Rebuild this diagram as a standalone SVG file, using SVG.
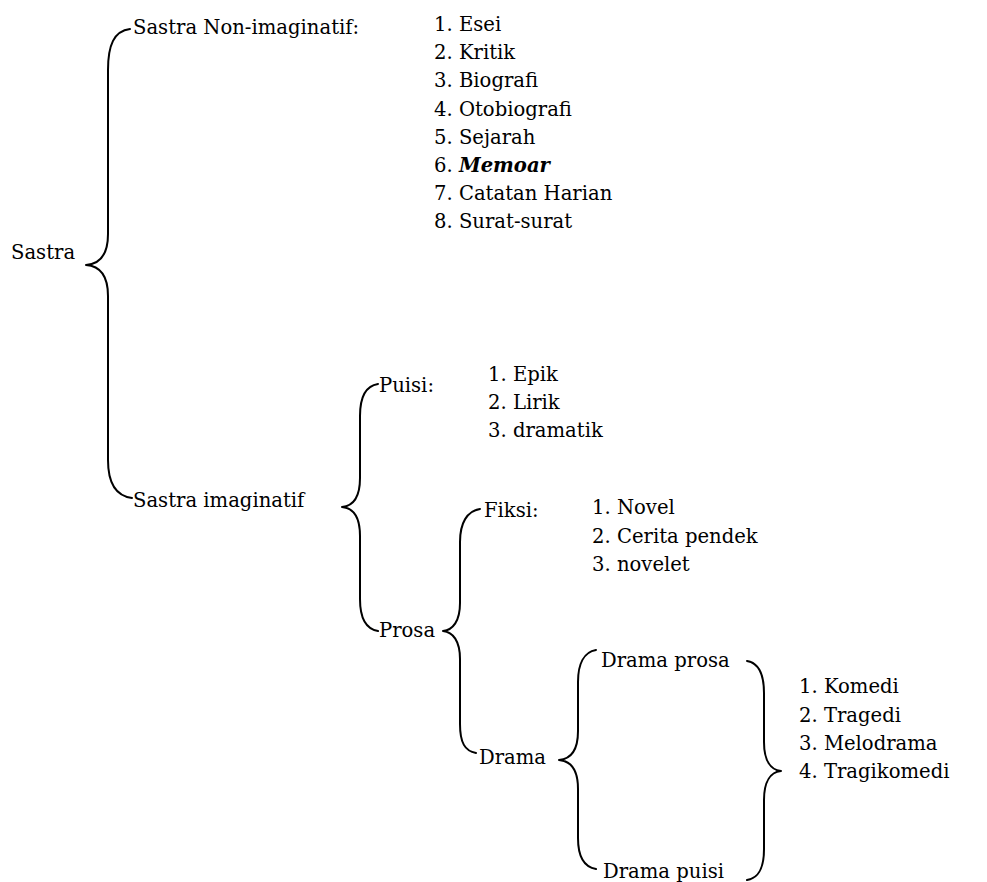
<svg xmlns="http://www.w3.org/2000/svg" width="987" height="882" viewBox="0 0 987 882">
<style>
text { font-family: "DejaVu Serif", "Liberation Serif", serif; font-size: 19.6px; fill: #000; }
.b { fill: none; stroke: #000; stroke-width: 2; stroke-linejoin: round; stroke-linecap: round; }
.bi { font-weight: bold; font-style: italic; }
</style>
<rect width="987" height="882" fill="#fff"/>
<g id="connectors">
<path class="b" d="M130,29 C114,31 108,45 108,70 L108,234 C108,254 100,264 86,265 C100,266 108,276 108,296 L108,460 C108,484 116,496 132,498"/>
<path class="b" d="M378,384 C365,386 360,398 360,416 L360,478 C360,497 353,506 342,507 C353,508 360,517 360,536 L360,599 C360,618 366,629 378,631"/>
<path class="b" d="M480,509 C467,511 460,523 460,542 L460,603 C460,621 453,630 443,631 C453,632 460,641 460,659 L460,724 C460,743 465,751 476,753"/>
<path class="b" d="M596,650 C584,652 578,664 578,682 L578,731 C578,750 571,759 559,760 C571,761 578,770 578,789 L578,838 C578,857 584,867 596,869"/>
<path class="b" d="M747,661 C759,663 764,675 764,693 L764,742 C764,761 771,770 781,771 C771,772 764,781 764,800 L764,849 C764,868 759,878 747,880"/>
</g>
<g id="sastra"><text x="11" y="259">Sastra</text></g>
<g id="non-imaginatif"><text x="133" y="34">Sastra Non-imaginatif:</text></g>
<g id="non-imaginatif-list">
<text x="434" y="31">1. Esei</text>
<text x="434" y="59">2. Kritik</text>
<text x="434" y="87">3. Biografi</text>
<text x="434" y="116">4. Otobiografi</text>
<text x="434" y="144">5. Sejarah</text>
<text x="434" y="172">6. <tspan class="bi">Memoar</tspan></text>
<text x="434" y="200">7. Catatan Harian</text>
<text x="434" y="228">8. Surat-surat</text>
</g>
<g id="imaginatif"><text x="133" y="507">Sastra imaginatif</text></g>
<g id="puisi"><text x="379" y="392">Puisi:</text></g>
<g id="puisi-list">
<text x="488" y="381">1. Epik</text>
<text x="488" y="409">2. Lirik</text>
<text x="488" y="437">3. dramatik</text>
</g>
<g id="prosa"><text x="379" y="637">Prosa</text></g>
<g id="fiksi"><text x="484" y="517">Fiksi:</text></g>
<g id="fiksi-list">
<text x="592" y="514">1. Novel</text>
<text x="592" y="543">2. Cerita pendek</text>
<text x="592" y="571">3. novelet</text>
</g>
<g id="drama"><text x="479" y="764">Drama</text></g>
<g id="drama-prosa"><text x="601" y="667">Drama prosa</text></g>
<g id="drama-puisi"><text x="603" y="878">Drama puisi</text></g>
<g id="drama-list">
<text x="799" y="693">1. Komedi</text>
<text x="799" y="722">2. Tragedi</text>
<text x="799" y="750">3. Melodrama</text>
<text x="799" y="778">4. Tragikomedi</text>
</g>
</svg>
